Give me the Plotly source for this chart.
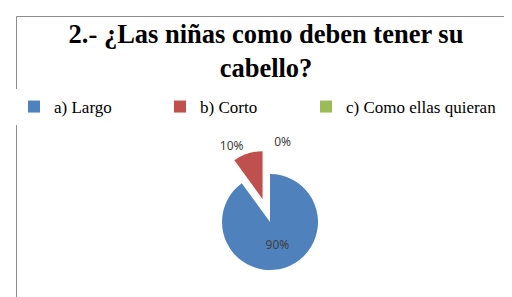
import plotly.graph_objects as go

labels = ["a) Largo", "b) Corto", "c) Como ellas quieran"]
values = [90, 10, 0]
colors = ["#4F81BD", "#C0504D", "#9BBB59"]
pulls = [0, 0.5, 0.5]
text_pos = ["inside", "outside", "outside"]

W, H = 512, 297
cx, cy, side = 262, 214, 144

fig = go.Figure(go.Pie(
    labels=labels, values=values, sort=False, direction="clockwise", rotation=0,
    marker=dict(colors=colors, line=dict(width=0)),
    pull=pulls, textinfo="percent", texttemplate="%{percent:.0%}",
    textposition=text_pos,
    textfont=dict(family="Noto Sans", size=12, color="#404040"),
    insidetextfont=dict(family="Noto Sans", size=12, color="#404040"),
    outsidetextfont=dict(family="Noto Sans", size=12, color="#404040"),
    domain=dict(x=[(cx - side / 2) / W, (cx + side / 2) / W],
                y=[(H - cy - side / 2) / H, (H - cy + side / 2) / H]),
    showlegend=True, hoverinfo="label+percent",
))

fig.update_layout(
    width=W, height=H, margin=dict(l=0, r=0, t=0, b=0, autoexpand=False),
    paper_bgcolor="white", plot_bgcolor="white",
    title=dict(text="2.- ¿Las niñas como deben tener su<br>cabello?",
               font=dict(family="Liberation Serif", size=26.5, color="black", weight="bold"),
               x=258 / W, xanchor="center", y=1 - 35 / H, yanchor="top"),
    legend=dict(orientation="h", x=6 / W, xanchor="left", y=1 - 81 / H, yanchor="top",
                font=dict(family="Liberation Serif", size=17, color="black"),
                entrywidth=101, entrywidthmode="pixels", traceorder="normal"),
    shapes=[dict(type="rect", xref="paper", yref="paper",
                 x0=8.5 / W, x1=1.2, y0=-0.2, y1=1 - 8.5 / H,
                 line=dict(color="#8c8c8c", width=1), fillcolor="rgba(0,0,0,0)")],
)

post = """
document.querySelectorAll('.legend .scrollbox').forEach(function(e){e.removeAttribute('clip-path');});
document.querySelectorAll('.legend').forEach(function(e){e.removeAttribute('clip-path');});
"""
fig.write_html("out.html", post_script=post)
